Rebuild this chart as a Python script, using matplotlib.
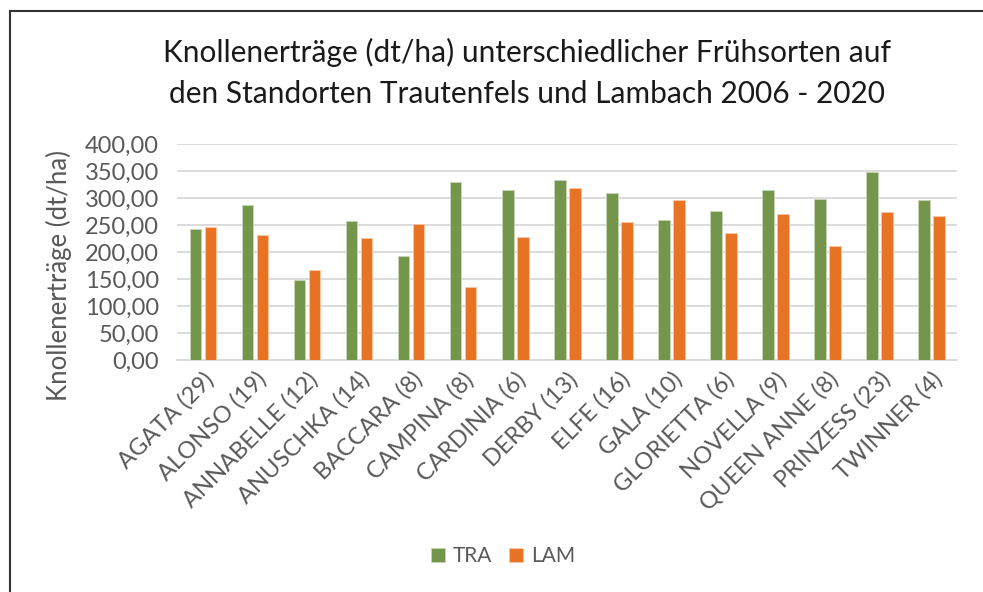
import numpy as np
import matplotlib.pyplot as plt
from matplotlib.lines import Line2D

# Sorten (Anzahl Versuchsjahre) und Erträge in dt/ha
sorten = ['AGATA (29)', 'ALONSO (19)', 'ANNABELLE (12)', 'ANUSCHKA (14)',
          'BACCARA (8)', 'CAMPINA (8)', 'CARDINIA (6)', 'DERBY (13)',
          'ELFE (16)', 'GALA (10)', 'GLORIETTA (6)', 'NOVELLA (9)',
          'QUEEN ANNE (8)', 'PRINZESS (23)', 'TWINNER (4)']
tra = [242.6, 287.7, 148.8, 257.4, 193.2, 330.2, 314.8, 334.0,
       308.6, 258.6, 276.5, 314.8, 298.8, 348.8, 295.7]
lam = [245.7, 231.5, 166.0, 226.5, 251.9, 135.8, 227.8, 318.5,
       255.0, 296.3, 235.8, 270.4, 210.5, 274.0, 267.3]
y_ticks = [0, 50, 100, 150, 200, 250, 300, 350, 400]

plt.rcParams['font.family'] = ['Lato', 'DejaVu Sans']

grau = '#595959'
gruen = '#74964A'
orange = '#E87324'

fig = plt.figure(figsize=(9.83, 5.92), dpi=100)
ax = fig.add_axes([0.180, 0.392, 0.794, 0.365])

x = np.arange(len(sorten))
breite = 0.225
ax.bar(x - 0.144, tra, breite, color=gruen, edgecolor='#C9D6B9', linewidth=0.6, label='TRA', zorder=3)
ax.bar(x + 0.144, lam, breite, color=orange, edgecolor='#F6C9A9', linewidth=0.6, label='LAM', zorder=3)

ax.set_xlim(-0.5, len(sorten) - 0.5)
ax.set_ylim(0, 400)
ax.set_yticks(y_ticks)
ax.set_yticklabels([f'{v:.2f}'.replace('.', ',') for v in y_ticks], fontsize=17, color=grau)
ax.yaxis.grid(True, color='#D9D9D9', linewidth=1.3, zorder=0)
ax.set_axisbelow(True)
for s in ['top', 'right', 'left']:
    ax.spines[s].set_visible(False)
ax.spines['bottom'].set_color('#D9D9D9')
ax.spines['bottom'].set_linewidth(1.3)
ax.tick_params(axis='y', length=0, pad=13)
ax.tick_params(axis='x', length=0, pad=6)

ax.set_xticks(x)
ax.set_xticklabels(sorten, rotation=45, ha='right', rotation_mode='anchor',
                   fontsize=17, color=grau)
ax.set_ylabel('Knollenerträge (dt/ha)', fontsize=18.5, color=grau)
ax.yaxis.set_label_coords(-0.135, 0.39)

fig.text(0.536, 0.912, 'Knollenerträge (dt/ha) unterschiedlicher Frühsorten auf',
         ha='center', va='center', fontsize=21.5, color='#1a1a1a')
fig.text(0.536, 0.842, 'den Standorten Trautenfels und Lambach 2006 - 2020',
         ha='center', va='center', fontsize=21.5, color='#1a1a1a')

fig.legend(loc='center', bbox_to_anchor=(0.512, 0.06), ncol=2, frameon=False,
           fontsize=15, handlelength=0.65, handleheight=0.65, handletextpad=0.4,
           columnspacing=0.8, labelcolor=grau)

# Rahmen oben und links
fig.add_artist(Line2D([0.0105, 1.0], [0.981, 0.981], color='#333333', linewidth=1.5))
fig.add_artist(Line2D([0.0105, 0.0105], [0.0, 0.981], color='#333333', linewidth=1.5))

fig.savefig('out.png', dpi=100)
